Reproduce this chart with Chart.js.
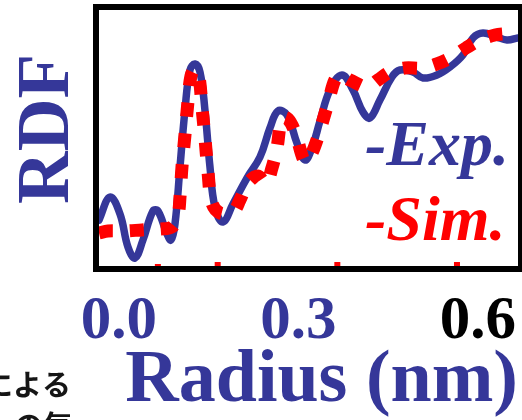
<!DOCTYPE html>
<html>
<head>
<meta charset="utf-8">
<script src="https://cdn.jsdelivr.net/npm/chart.js@4.4.1/dist/chart.umd.min.js"></script>
<style>
  html, body { margin: 0; padding: 0; background: #ffffff; }
  #wrap { width: 522px; height: 420px; position: relative; }
</style>
</head>
<body>
<div id="wrap"><canvas id="rdf" width="522" height="420"></canvas></div>
<script>
// Radius values (nm) and RDF values for the experimental curve
const expRadius = [-0.0334, -0.0150, 0.0017, 0.0150, 0.0267, 0.0401, 0.0568, 0.0652, 0.0802, 0.0869,
  0.0936, 0.1020, 0.1103, 0.1187, 0.1270, 0.1354, 0.1437, 0.1521, 0.1604, 0.1738,
  0.1905, 0.2139, 0.2357, 0.2524, 0.2658, 0.2808, 0.2975, 0.3109, 0.3226, 0.3360,
  0.3527, 0.3727, 0.3911, 0.4078, 0.4195, 0.4362, 0.4563, 0.4697, 0.4914, 0.5081,
  0.5315, 0.5532, 0.5750, 0.5917, 0.6084, 0.6318, 0.6485, 0.6669];
const expRDF = [0.449, 0.674, 0.508, 0.186, 0.078, 0.254, 0.537, 0.537, 0.313, 0.254,
  0.410, 0.967, 1.523, 1.914, 1.973, 1.895, 1.523, 0.967, 0.576, 0.430,
  0.605, 0.859, 1.064, 1.348, 1.514, 1.475, 1.201, 1.035, 1.152, 1.416,
  1.719, 1.865, 1.719, 1.504, 1.445, 1.621, 1.846, 1.914, 1.895, 1.836,
  1.865, 1.943, 2.061, 2.227, 2.275, 2.236, 2.207, 2.227];

// Radius values (nm) and RDF values for the simulated curve
const simRadius = [-0.0334, -0.0184, 0.0100, 0.0384, 0.0685, 0.0886, 0.0986, 0.1020, 0.1053, 0.1103,
  0.1153, 0.1203, 0.1270, 0.1337, 0.1387, 0.1437, 0.1488, 0.1554, 0.1688, 0.1905,
  0.2022, 0.2156, 0.2323, 0.2457, 0.2557, 0.2641, 0.2724, 0.2825, 0.2942, 0.3109,
  0.3209, 0.3326, 0.3477, 0.3660, 0.3861, 0.4145, 0.4329, 0.4529, 0.4780, 0.5064,
  0.5315, 0.5566, 0.5800, 0.6034, 0.6284, 0.6535, 0.6669];
const simRDF = [0.322, 0.342, 0.342, 0.352, 0.361, 0.381, 0.498, 0.674, 0.967, 1.279,
  1.602, 1.855, 1.924, 1.846, 1.553, 1.250, 0.918, 0.615, 0.518, 0.527,
  0.645, 0.811, 0.879, 0.801, 0.957, 1.152, 1.445, 1.436, 1.309, 1.016,
  1.084, 1.260, 1.553, 1.865, 1.816, 1.748, 1.816, 1.895, 1.934, 1.934,
  1.973, 2.041, 2.129, 2.207, 2.256, 2.275, 2.305];

// Axis tick labels and small red marks along the bottom of the frame
const radiusTicks = [0.0, 0.3, 0.6];
const redMarks = [0.065, 0.165, 0.365, 0.565];

// Legend entries and the caption fragment at the lower left
const seriesNames = ['-Exp.', '-Sim.'];
const captionLines = ['による', 'の気'];

const BLUE = '#353799';
const RED = '#ff0000';
const SERIF = '"Liberation Serif", "Times New Roman", serif';

function pairs(xs, ys) {
  return xs.map((x, i) => ({ x: x, y: ys[i] }));
}

// Thick black frame, red marks, in-plot legend and caption text
const decorations = {
  id: 'decorations',
  afterDatasetsDraw(chart) {
    const { ctx, chartArea: a, scales } = chart;
    ctx.save();
    // red marks sitting on the bottom edge
    ctx.fillStyle = RED;
    redMarks.forEach((v, i) => {
      const px = scales.x.getPixelForValue(v);
      const h = i === 0 ? 2 : 4;
      ctx.fillRect(px - 3, a.bottom - h, 6, h);
    });
    // frame
    ctx.strokeStyle = '#000000';
    ctx.lineWidth = 6;
    ctx.strokeRect(a.left - 3, a.top - 3, a.right - a.left + 6, a.bottom - a.top + 6);
    // legend text
    ctx.font = 'italic bold 64px ' + SERIF;
    ctx.textAlign = 'left';
    ctx.textBaseline = 'alphabetic';
    ctx.fillStyle = BLUE;
    ctx.fillText(seriesNames[0], 365, 165);
    ctx.fillStyle = RED;
    ctx.fillText(seriesNames[1], 365, 240);
    // caption fragment
    ctx.font = 'bold 29px "Noto Sans CJK JP", sans-serif';
    ctx.fillStyle = '#151515';
    ctx.fillText(captionLines[0], -16, 396);
    ctx.fillText(captionLines[1], 14, 437);
    ctx.restore();
  }
};

new Chart(document.getElementById('rdf'), {
  type: 'line',
  data: {
    datasets: [
      {
        label: 'Sim.',
        data: pairs(simRadius, simRDF),
        borderColor: RED,
        borderWidth: 13,
        borderDash: [14, 17],
        borderCapStyle: 'butt',
        tension: 0.35,
        pointRadius: 0,
        fill: false,
        order: 0
      },
      {
        label: 'Exp.',
        data: pairs(expRadius, expRDF),
        borderColor: BLUE,
        borderWidth: 7.5,
        borderCapStyle: 'round',
        borderJoinStyle: 'round',
        tension: 0.4,
        pointRadius: 0,
        fill: false,
        order: 1
      }
    ]
  },
  options: {
    responsive: false,
    animation: false,
    layout: { padding: { top: 10, right: 4, left: 0, bottom: 0 } },
    plugins: {
      legend: { display: false },
      tooltip: { enabled: false }
    },
    scales: {
      x: {
        type: 'linear',
        min: -0.0334,
        max: 0.667,
        grid: { display: false, drawTicks: false },
        border: { display: false },
        afterBuildTicks(scale) {
          scale.ticks = radiusTicks.map(v => ({ value: v }));
        },
        afterFit(scale) {
          scale.height = 154;
          scale.paddingLeft = 0;
          scale.paddingRight = 0;
        },
        ticks: {
          autoSkip: false,
          maxRotation: 0,
          padding: 26,
          font: { family: SERIF, size: 61, weight: 'bold', lineHeight: 1 },
          color: (c) => (c.tick && c.tick.value === 0.6 ? '#000000' : BLUE),
          callback: (v) => Number(v).toFixed(1)
        },
        title: {
          display: true,
          text: 'Radius (nm)',
          align: 'end',
          color: BLUE,
          padding: { top: 0, bottom: 1 },
          font: { family: SERIF, size: 74, weight: 'bold', lineHeight: 1 }
        }
      },
      y: {
        type: 'linear',
        min: 0,
        max: 2.5,
        grid: { display: false, drawTicks: false },
        border: { display: false },
        ticks: { display: false },
        afterFit(scale) { scale.width = 99; },
        title: {
          display: true,
          text: ' RDF',
          color: BLUE,
          padding: { top: 13, bottom: 0 },
          font: { family: SERIF, size: 73, weight: 'bold', lineHeight: 1 }
        }
      }
    }
  },
  plugins: [decorations]
});
</script>
</body>
</html>
